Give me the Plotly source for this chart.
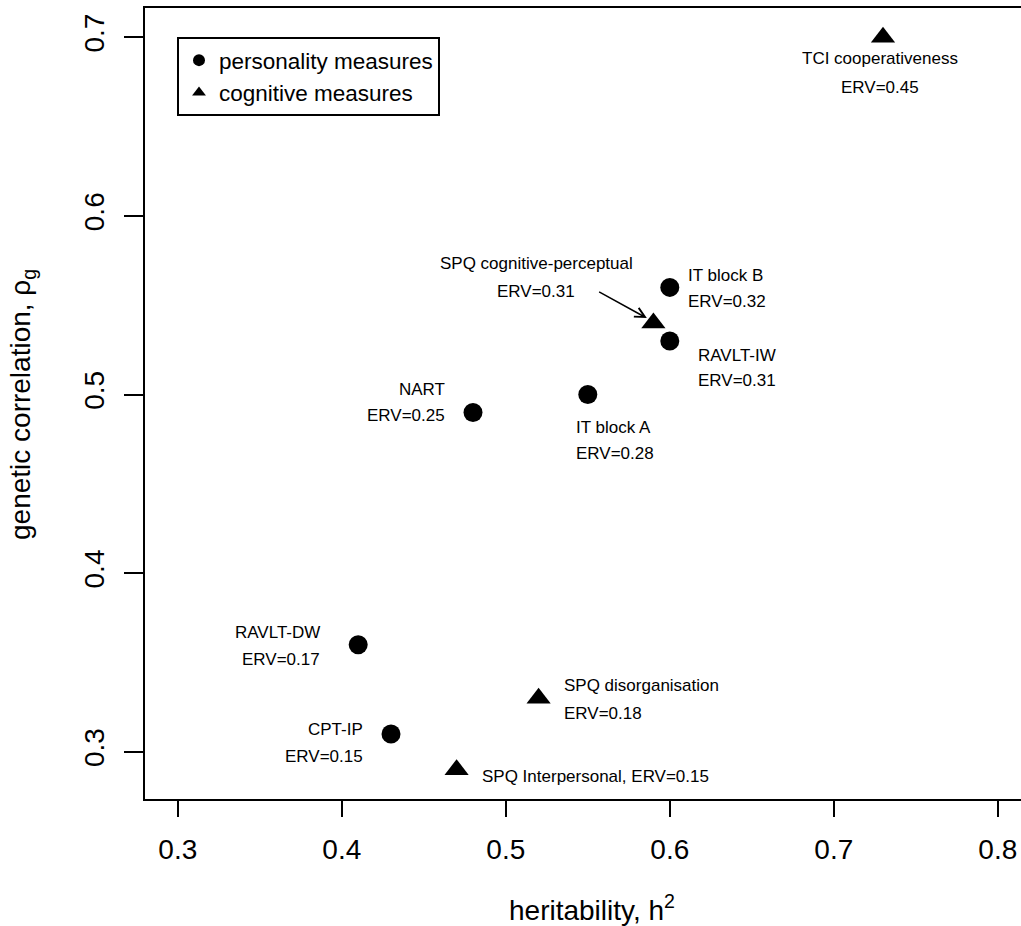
import plotly.graph_objects as go

# ---------------- data ----------------
pers_names = ["IT block B", "RAVLT-IW", "IT block A", "NART", "RAVLT-DW", "CPT-IP"]
pers_h2 = [0.60, 0.60, 0.55, 0.48, 0.41, 0.43]
pers_rg = [0.56, 0.53, 0.50, 0.49, 0.36, 0.31]
pers_erv = [0.32, 0.31, 0.28, 0.25, 0.17, 0.15]

cog_names = ["TCI cooperativeness", "SPQ cognitive-perceptual", "SPQ disorganisation", "SPQ Interpersonal"]
cog_h2 = [0.73, 0.59, 0.52, 0.47]
cog_rg = [0.70, 0.54, 0.33, 0.29]
cog_erv = [0.45, 0.31, 0.18, 0.15]

x_ticks = [0.3, 0.4, 0.5, 0.6, 0.7, 0.8]
y_ticks = [0.3, 0.4, 0.5, 0.6, 0.7]

# ---------------- label layout (pixel offsets from the point) ----------------
# name: (xanchor, dx, dy_line1, dy_line2 or None for single line)
label_layout = {
    "IT block B": ("left", 16, -11.5, 14),
    "RAVLT-IW": ("left", 26, 15, 40),
    "IT block A": ("left", -14, 33, 59),
    "NART": ("right", -26, -22.5, 3),
    "RAVLT-DW": ("right", -36, -12.5, 15),
    "CPT-IP": ("right", -26, -4.6, 23),
    "TCI cooperativeness": ("center", -3, 21, 50),
    "SPQ cognitive-perceptual": ("center", -117, -60, -32),
    "SPQ disorganisation": ("left", 23, -12.5, 15.7),
    "SPQ Interpersonal": ("left", 23.6, 6.4, None),
}

FONT = "Arial, 'Liberation Sans', sans-serif"

fig = go.Figure()
fig.add_trace(go.Scatter(
    x=pers_h2, y=pers_rg, mode="markers", name="personality measures",
    marker=dict(symbol="circle", size=19, color="black", line=dict(width=0)),
    text=pers_names, hoverinfo="text+x+y",
))
fig.add_trace(go.Scatter(
    x=cog_h2, y=cog_rg, mode="markers", name="cognitive measures",
    marker=dict(symbol="triangle-up", size=21, color="black", line=dict(width=0)),
    text=cog_names, hoverinfo="text+x+y",
))

annotations = []
def add_labels(names, xs, ys, ervs):
    for n, x, y, e in zip(names, xs, ys, ervs):
        anchor, dx, dy1, dy2 = label_layout[n]
        if dy2 is None:
            annotations.append(dict(
                x=x, y=y, xref="x", yref="y", text=f"{n}, ERV={e:.2f}",
                showarrow=False, xanchor=anchor, yanchor="middle",
                xshift=dx, yshift=-dy1, font=dict(size=17, color="black", family=FONT)))
        else:
            annotations.append(dict(
                x=x, y=y, xref="x", yref="y", text=n,
                showarrow=False, xanchor=anchor, yanchor="middle",
                xshift=dx, yshift=-dy1, font=dict(size=17, color="black", family=FONT)))
            annotations.append(dict(
                x=x, y=y, xref="x", yref="y", text=f"ERV={e:.2f}",
                showarrow=False, xanchor=anchor, yanchor="middle",
                xshift=dx, yshift=-dy2, font=dict(size=17, color="black", family=FONT)))

add_labels(pers_names, pers_h2, pers_rg, pers_erv)
add_labels(cog_names, cog_h2, cog_rg, cog_erv)

# arrow pointing at SPQ cognitive-perceptual
annotations.append(dict(
    x=0.586, y=0.5428, xref="x", yref="y",
    ax=0.556, ay=0.558, axref="x", ayref="y",
    text="", showarrow=True, arrowhead=5, arrowsize=1.3, arrowwidth=1.5,
    arrowcolor="black", standoff=0, startstandoff=0,
))

# axis titles (pixel positions, converted below)
annotations.append(dict(
    x=592, y=908, xref="paper", yref="paper", text="heritability, h<sup>2</sup>",
    showarrow=False, font=dict(size=28, color="black", family=FONT),
))
annotations.append(dict(
    x=22, y=405, xref="paper", yref="paper", text="genetic correlation, \u03c1<sub>g</sub>",
    textangle=-90, showarrow=False, font=dict(size=28, color="black", family=FONT),
))

W, H = 1021, 926
ML, MR, MT, MB = 145, 0, 8, 127
pw, ph = W - ML - MR, H - MT - MB
for a in annotations[-2:]:
    a["x"] = (a["x"] - ML) / pw
    a["y"] = 1 - (a["y"] - MT) / ph
    a["xanchor"] = "center"
    a["yanchor"] = "middle"

fig.update_layout(
    width=W, height=H,
    margin=dict(l=ML, r=MR, t=MT, b=MB, pad=0, autoexpand=False),
    paper_bgcolor="white", plot_bgcolor="white",
    font=dict(family=FONT, color="black"),
    annotations=annotations,
    showlegend=True,
    legend=dict(
        x=(177 - ML) / pw, y=1 - (37 - MT) / ph, xanchor="left", yanchor="top",
        bordercolor="black", borderwidth=2, bgcolor="white",
        font=dict(size=22.5, color="black", family=FONT),
        itemsizing="constant", tracegroupgap=0,
    ),
    xaxis=dict(
        range=[0.28, 0.28 + pw / 1640], tickvals=x_ticks,
        ticktext=[f"{v:.1f}" for v in x_ticks],
        ticks="outside", ticklen=16, tickwidth=2, tickcolor="black",
        showline=True, linewidth=2, linecolor="black", mirror=True,
        showgrid=False, zeroline=False, automargin=False,
        ticklabelstandoff=8,
        tickfont=dict(size=28, color="black", family=FONT),
    ),
    yaxis=dict(
        range=[0.2736, 0.7164], tickvals=y_ticks,
        ticktext=[f"{v:.1f}" for v in y_ticks], tickangle=-90,
        ticks="outside", ticklen=19, tickwidth=2, tickcolor="black",
        showline=True, linewidth=2, linecolor="black", mirror=False,
        showgrid=False, zeroline=False, automargin=False,
        ticklabelstandoff=9,
        tickfont=dict(size=28, color="black", family=FONT),
    ),
)

fig.write_html(
    "out.html",
    config={"displayModeBar": False},
    post_script="document.body.style.margin='0';document.body.style.overflow='hidden';",
)
